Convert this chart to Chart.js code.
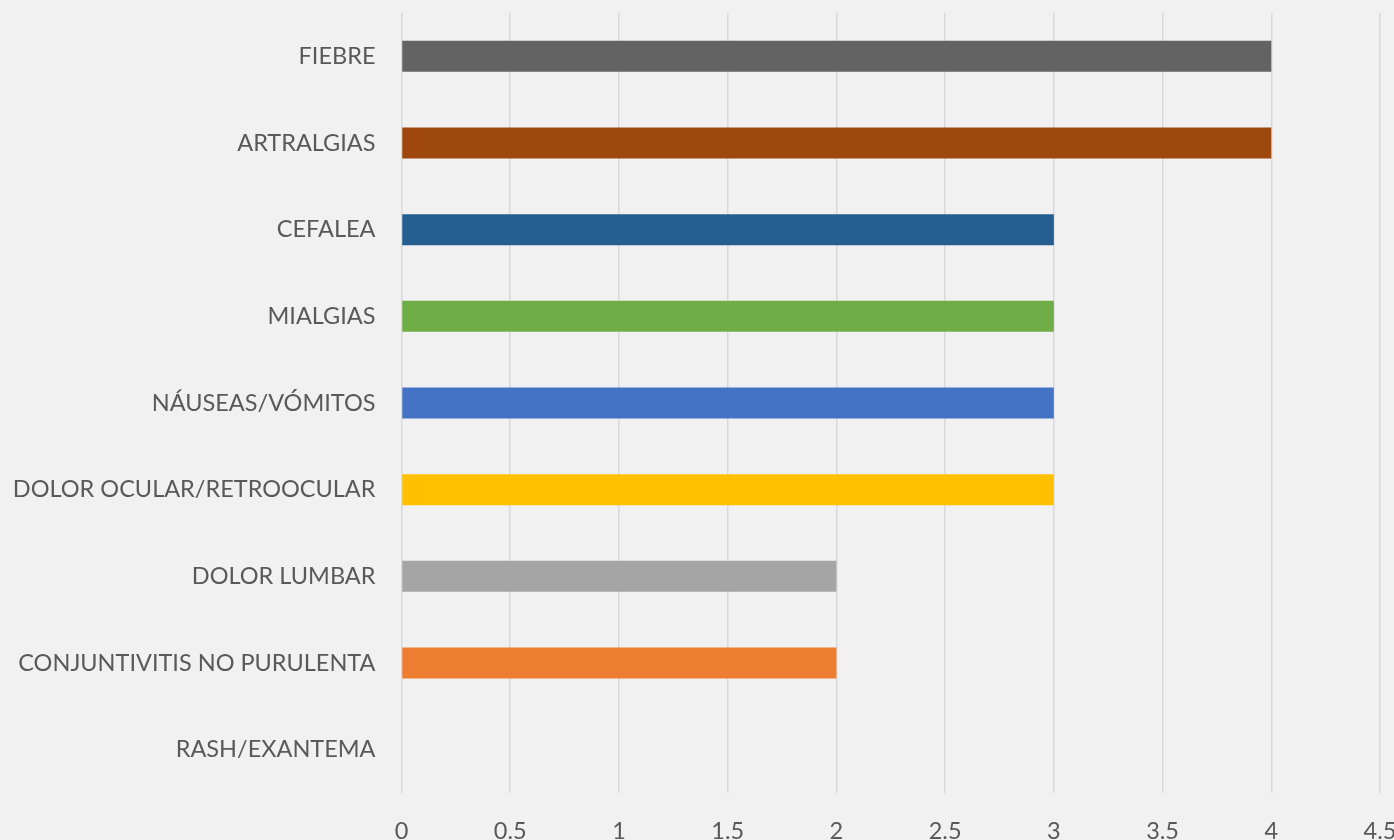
<!DOCTYPE html>
<html>
<head>
<meta charset="utf-8">
<script src="https://cdn.jsdelivr.net/npm/chart.js@4/dist/chart.umd.min.js"></script>
<style>
    body { margin: 0; overflow: hidden; background: #f1f1f1; }
    canvas { display: block; }
</style>
</head>
<body>
<canvas id="symptomChart" width="1420" height="860"></canvas>
<script>
// symptom names, top to bottom
var symptoms = [
    'FIEBRE',
    'ARTRALGIAS',
    'CEFALEA',
    'MIALGIAS',
    'NÁUSEAS/VÓMITOS',
    'DOLOR OCULAR/RETROOCULAR',
    'DOLOR LUMBAR',
    'CONJUNTIVITIS NO PURULENTA',
    'RASH/EXANTEMA'
]
// number of cases for each symptom
var cases = [4, 4, 3, 3, 3, 3, 2, 2, 0]
var barColors = ['#636363', '#9e480e', '#255e91', '#70ad47', '#4472c4', '#ffc000', '#a5a5a5', '#ed7d31', '#5b9bd5']

var axisMax = 4.5
var axisStep = 0.5

var labelFont = { family: 'Lato', size: 23.5 }

const data = {
    labels: symptoms,
    datasets: [{
        data: cases,
        backgroundColor: barColors,
        borderWidth: 0,
        categoryPercentage: 1,
        barPercentage: 0.357
    }]
}

const config = {
    type: 'bar',
    data: data,
    options: {
        indexAxis: 'y',
        responsive: false,
        animation: false,
        layout: {
            padding: { top: 13, right: 40, bottom: 14, left: 0 }
        },
        plugins: {
            legend: { display: false },
            tooltip: { enabled: false }
        },
        scales: {
            x: {
                min: 0,
                max: axisMax,
                ticks: {
                    stepSize: axisStep,
                    color: '#595959',
                    font: labelFont,
                    padding: 24,
                    maxRotation: 0,
                    // 1 and 2 instead of 1.0 and 2.0
                    callback: function(value) {
                        return String(value)
                    }
                },
                grid: { color: '#d9d9d9', lineWidth: 1.5, drawTicks: false },
                border: { display: false },
                afterFit: function(scale) {
                    scale.height = 53
                    scale.paddingLeft = 0
                    scale.paddingRight = 0
                }
            },
            y: {
                ticks: {
                    color: '#595959',
                    font: labelFont,
                    padding: 26
                },
                grid: { display: false, drawTicks: false },
                border: { display: false },
                // keep the plot starting where the reference does
                afterFit: function(scale) {
                    scale.width = 401.5
                    scale.paddingTop = 0
                    scale.paddingBottom = 0
                }
            }
        }
    }
}

var symptomChart = new Chart(document.getElementById('symptomChart'), config)
</script>
</body>
</html>
